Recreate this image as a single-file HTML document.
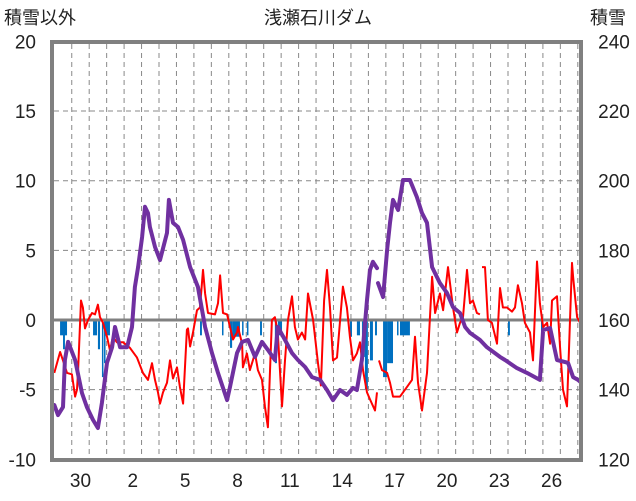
<!DOCTYPE html>
<html><head><meta charset="utf-8">
<style>
html,body{margin:0;padding:0;background:#fff;}
svg{display:block;font-family:"Liberation Sans","Noto Sans CJK JP",sans-serif;}
</style></head>
<body>
<svg id="chart" width="636" height="501" viewBox="0 0 636 501">
<defs><clipPath id="clip"><rect x="54" y="44" width="525" height="414"/></clipPath></defs>
<text x="318" y="24" text-anchor="middle" font-size="18" fill="#222">浅瀬石川ダム</text>
<text x="4" y="24" font-size="18" fill="#222">積雪以外</text>
<text x="590" y="24" font-size="18" fill="#222">積雪</text>
<g id="grid"></g>
<g id="bars" clip-path="url(#clip)"></g>
<g id="lines" clip-path="url(#clip)"></g>
<rect x="52" y="42" width="529" height="418" fill="none" stroke="#808080" stroke-width="4"/>
<g id="axes"></g>
</svg>
<script>
const leftTicks = [20,15,10,5,0,-5,-10];
const rightTicks = [240,220,200,180,160,140,120];
const xTickLabels = ["30","2","5","8","11","14","17","20","23","26"];
const xTickDays = [1,4,7,10,13,16,19,22,25,28];
const redDays = [0,0.33,0.5,0.73,1.01,1.19,1.3,1.36,1.53,1.64,1.76,1.93,2.16,2.33,2.5,2.62,2.79,3.02,3.19,3.36,3.59,3.94,4.34,4.74,5.08,5.37,5.6,5.77,5.94,6.06,6.23,6.46,6.63,6.8,7.03,7.2,7.38,7.6,7.66,7.78,7.95,8.18,8.35,8.52,8.64,8.81,9.21,9.38,9.5,9.67,9.9,10.07,10.24,10.47,10.53,10.76,10.81,11.04,11.21,11.5,11.67,11.9,12.07,12.24,12.47,12.64,12.81,13.05,13.22,13.39,13.62,13.79,13.96,14.19,14.37,14.54,14.83,15.11,15.28,15.46,15.63,15.8,15.97,16.2,16.54,16.77,16.94,17.12,17.34,17.52,17.69,17.92,18.09,18.38,18.49,18.55,18.61,18.78,19.07,19.24,19.41,19.81,20.21,20.5,20.67,20.84,21.07,21.36,21.65,21.82,22.1,22.28,22.56,22.85,23.08,23.25,23.42,23.65,23.82,23.99,24.22,24.39,24.45,24.51,24.68,24.85,25.08,25.37,25.54,25.71,25.94,26.23,26.4,26.57,26.8,26.97,27.26,27.43,27.66,27.83,28.01,28.24,28.41,28.52,28.81,28.98,29.15,29.38,29.67,29.73,29.96,30.13];
const redValues = [-3.8,-2.3,-2.9,-3.8,-3.9,-5.5,-5.0,-3.8,1.4,0.9,-0.6,0,0.5,0.4,1.1,0.2,-0.2,-1.2,-2.2,-1.2,-1.6,-1.6,-2.0,-2.7,-3.8,-4.3,-3.1,-4.3,-5.2,-6.0,-5.2,-4.5,-2.9,-4.2,-3.4,-4.8,-6.0,-0.7,-0.6,-1.9,-0.9,0.7,0.9,3.6,1.9,0.5,0.4,1.2,3.2,0.5,0.4,-0.5,-1.4,-0.9,-0.5,-1.7,-3.4,-2.4,-3.6,-2.4,-3.6,-4.3,-6.2,-7.7,0,0.2,-0.9,-6.2,-2.9,0,1.7,-0.5,-1.4,-0.9,-1.4,1.9,0,-3.1,-4.7,1.4,3.6,0.9,-2.9,-2.7,2.4,0.9,-1.2,-2.9,-2.4,-1.6,-3.6,-5.2,-5.7,-6.5,-5.2,null,-2.9,-3.6,-3.8,-4.5,-5.5,-5.5,-4.8,-4.3,-1.2,-4.5,-6.5,-3.8,3.1,0.5,1.9,0.7,3.8,0.9,-0.9,-0.2,0.2,3.6,1.2,1.4,0.5,0.4,null,3.8,3.8,0,-0.2,-1.7,2.3,0.9,0.9,0.6,0.9,2.5,1.2,-0.2,-0.9,-2.9,4.2,1.2,-0.5,-0.2,-1.7,1.4,1.7,-1.9,-5.0,-6.2,4.1,3.1,0.2,-0.2];
const snowDays = [0,0.21,0.5,0.61,0.79,1.19,1.59,1.87,2.22,2.5,2.73,3.02,3.31,3.48,3.77,4.17,4.45,4.62,4.8,5.03,5.2,5.37,5.48,5.77,6.06,6.46,6.57,6.8,7.09,7.38,7.78,8.23,8.64,9.04,9.38,9.9,10.07,10.47,10.76,11.1,11.5,11.9,12.24,12.64,12.81,13.22,13.62,13.96,14.37,14.77,15.23,15.63,15.97,16.37,16.77,17.12,17.34,17.63,17.92,18.09,18.26,18.49,18.52,18.55,18.84,19.07,19.24,19.41,19.7,19.98,20.38,20.78,21.07,21.36,21.65,22.1,22.5,22.85,23.25,23.54,23.82,24.39,24.79,25.54,25.83,26.51,27.09,27.83,28.01,28.41,28.81,29.44,29.73,30.01,30.2];
const snowValues = [135.6,132.7,135.0,148.5,153.7,148.5,139.0,135.0,131.3,129.0,136.2,147.7,152.2,158.0,152.2,152.2,158.0,169.5,175.2,183.8,192.5,190.7,186.7,181.0,177.2,185.0,194.5,187.9,186.7,183.0,175.2,169.5,158.0,150.5,144.8,137.0,140.8,150.5,153.7,154.3,149.4,153.7,151.4,148.5,158.0,154.3,150.5,148.5,146.5,143.6,142.8,139.9,137.0,139.9,138.5,140.5,139.9,148.5,165.7,174.4,176.7,174.9,null,170.6,166.6,180.1,187.9,194.5,191.6,200.2,200.2,195.3,190.7,187.9,175.2,170.6,167.8,163.7,162.0,158.0,156.3,154.3,152.2,149.4,148.5,146.2,144.8,142.8,157.1,157.7,148.5,147.7,143.6,142.8,142.0];
const barStart = [0.33,0.5,2.22,2.5,2.73,2.85,2.91,8.35,9.61,10.07,10.19,10.76,11.04,11.79,12.64,12.81,16.94,17.34,17.63,17.8,18.09,18.38,18.84,19.07,19.64,19.81,26.0,27.89];
const barEnd = [0.73,0.61,2.45,2.62,2.79,2.91,3.19,8.46,9.67,10.19,10.64,10.81,11.1,11.9,12.76,13.05,17.06,17.52,17.8,17.97,18.26,18.49,19.07,19.41,19.7,20.38,26.11,28.01];
const barValues = [-1.1,-2.1,-1.1,-2.1,-4.1,-3.1,-1.1,-1.1,-1.1,-2.0,-1.2,-1.1,-1.1,-1.1,-3.1,-1.1,-1.2,-1.1,-2.65,-5.0,-2.9,-1.1,-4.1,-3.1,-1.1,-1.1,-1.1,-1.1];

const NS='http://www.w3.org/2000/svg';
const X0=54.3, DAYW=17.45, Y0=320, PX=13.93;
function xs(d){return X0+d*DAYW;}
function yl(v){return Y0-v*PX;}
function yr(v){return Y0-(v-160)/4*PX;}
function mk(tag,attrs,parent){const e=document.createElementNS(NS,tag);for(const k in attrs)e.setAttribute(k,attrs[k]);parent.appendChild(e);return e;}
const grid=document.getElementById('grid'),bars=document.getElementById('bars'),lines=document.getElementById('lines'),axes=document.getElementById('axes');
for(let d=1;d<=30;d++){
  const l=mk('line',{x1:xs(d),x2:xs(d),y1:44,y2:458,stroke:'#888','stroke-width':1,'stroke-dasharray':'5,4'},grid);
  
  
}
leftTicks.forEach((t,i)=>{
  const y=yl(t);
  if(t!==0&&t!==20&&t!==-10){
    const g=mk('line',{x1:54,x2:579,y1:y,y2:y,stroke:'#888','stroke-width':1,'stroke-dasharray':'5,4'},grid);
    
    
  }
  const tl=mk('text',{x:36,y:y+7,'text-anchor':'end','font-size':19,fill:'#222'},axes);
  tl.textContent=t;
  
  
});
rightTicks.forEach(t=>{
  const tr=mk('text',{x:614,y:yr(t)+7,'text-anchor':'middle','font-size':19,fill:'#222'},axes);
  tr.textContent=t;
  
  
});
xTickLabels.forEach((s,i)=>{
  const tx=mk('text',{x:xs(xTickDays[i]+0.5),y:487,'text-anchor':'middle','font-size':19,fill:'#222'},axes);
  tx.textContent=s;
  
  
});
barStart.forEach((s,i)=>{
  const x1=xs(s),x2=Math.max(xs(barEnd[i]),x1+1.5);
  const b=mk('rect',{x:x1,y:yl(0),width:x2-x1,height:yl(barValues[i])-yl(0),fill:'#0070C0'},bars);
  
  
});
const zl=mk('line',{x1:54,x2:579,y1:yl(0),y2:yl(0),stroke:'#808080','stroke-width':3},lines);


function pathFrom(days,vals,yf){
  let d='',pen=false;
  days.forEach((dd,i)=>{const v=vals[i];if(v===null){pen=false;return;}d+=(pen?'L':'M')+xs(dd).toFixed(1)+','+yf(v).toFixed(1);pen=true;});
  return d;
}
const red=mk('path',{d:pathFrom(redDays,redValues,yl),fill:'none',stroke:'#FF0000','stroke-width':2,'stroke-linejoin':'round'},lines);


const pur=mk('path',{d:pathFrom(snowDays,snowValues,yr),fill:'none',stroke:'#7030A0','stroke-width':4,'stroke-linejoin':'round','stroke-linecap':'round'},lines);


</script>
</body></html>
